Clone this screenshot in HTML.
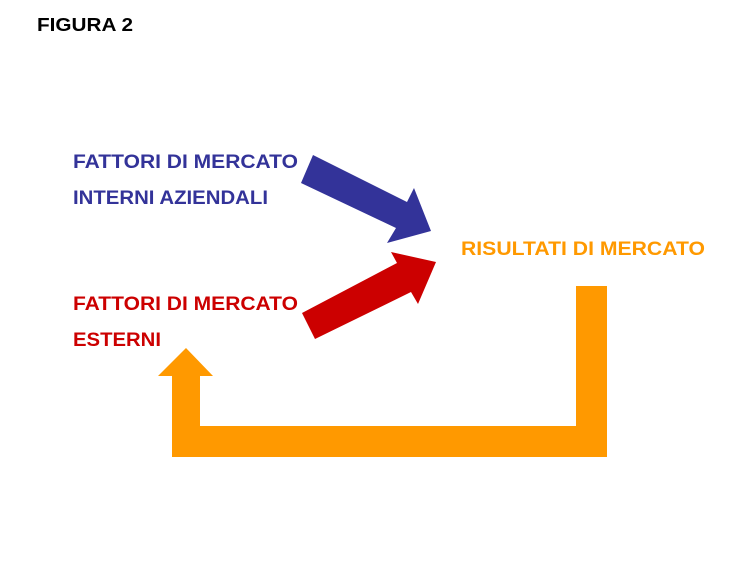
<!DOCTYPE html>
<html><head><meta charset="utf-8"><style>html,body{margin:0;padding:0;background:#fff}svg{display:block}</style></head>
<body>
<svg width="748" height="577" viewBox="0 0 748 577" xmlns="http://www.w3.org/2000/svg" font-family="Liberation Sans, Arial, sans-serif" font-weight="bold">
<text x="37" y="31" font-size="18" fill="#000" textLength="96" lengthAdjust="spacingAndGlyphs">FIGURA 2</text>
<text x="73" y="168" font-size="19" fill="#333399" textLength="225" lengthAdjust="spacingAndGlyphs">FATTORI DI MERCATO</text>
<text x="73" y="204" font-size="19" fill="#333399" textLength="195" lengthAdjust="spacingAndGlyphs">INTERNI AZIENDALI</text>
<text x="73" y="310" font-size="19" fill="#CC0000" textLength="225" lengthAdjust="spacingAndGlyphs">FATTORI DI MERCATO</text>
<text x="73" y="346" font-size="19" fill="#CC0000" textLength="88" lengthAdjust="spacingAndGlyphs">ESTERNI</text>
<text x="461" y="255" font-size="19" fill="#FF9900" textLength="244" lengthAdjust="spacingAndGlyphs">RISULTATI DI MERCATO</text>
<polygon fill="#333399" points="313,155 407,202 414,188 431,231 387,243 396,228 301,183"/>
<polygon fill="#CC0000" points="302,313 397,263 391,252 436,262 418,304 411,292 315,339"/>
<polygon fill="#FF9900" points="576,286 607,286 607,457 172,457 172,376 158,376 186,348 213,376 200,376 200,426 576,426"/>
</svg>
</body></html>
